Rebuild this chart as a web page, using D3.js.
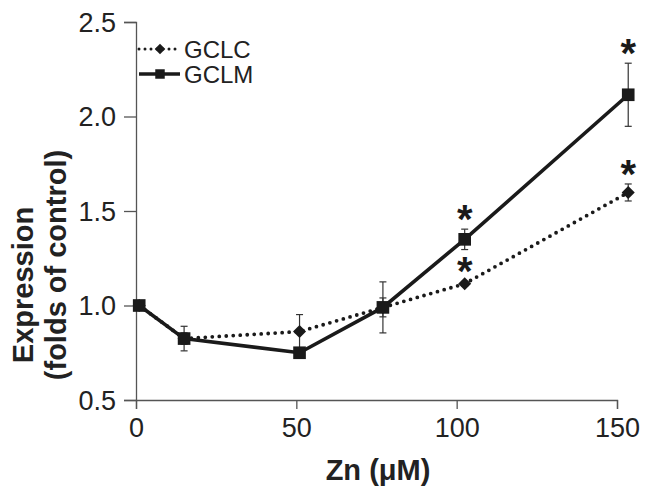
<!DOCTYPE html>
<html>
<head>
<meta charset="utf-8">
<script src="https://cdn.jsdelivr.net/npm/d3@7"></script>
<style>
  body { margin: 0; background: #fff; }
  svg { display: block; font-family: Arial, "Liberation Sans", sans-serif; }
</style>
</head>
<body>
<svg id="chart"></svg>
<script>
// values
const zn = [1, 15, 51, 77, 102.5, 153.5];           // Zn (µM), marker positions as drawn
const gclc = [1.0, 0.825, 0.862, 0.99, 1.115, 1.598];
const gclcErr = [0, 0.03, 0.09, 0.05, 0.012, 0.045];
const gclm = [1.0, 0.825, 0.75, 0.99, 1.35, 2.115];
const gclmErr = [0, 0.065, 0, 0.135, 0.054, 0.167];
const gclcSig = [false, false, false, false, true, true];
const gclmSig = [false, false, false, false, true, true];
const xTicks = [0, 50, 100, 150];
const yTicks = [0.5, 1.0, 1.5, 2.0, 2.5];

let width = 655, height = 488;
let svg = d3.select("#chart").attr("width", width).attr("height", height);

let x = d3.scaleLinear().domain([0, 150]).range([136, 617]);
let y = d3.scaleLinear().domain([0.5, 2.5]).range([400, 22]);

// rotated square, custom so we don't depend on symbolDiamond2
let diamond = {
    draw(ctx, size) {
        let r = Math.sqrt(size) / 2 * Math.SQRT2;
        ctx.moveTo(0, -r); ctx.lineTo(r, 0); ctx.lineTo(0, r); ctx.lineTo(-r, 0); ctx.closePath();
    }
};

// axes
let xAxis = svg.append("g")
    .attr("transform", "translate(0,400)")
    .call(d3.axisBottom(x).tickValues(xTicks).tickSize(9).tickPadding(5).tickFormat(d3.format("d")));
let yAxis = svg.append("g")
    .attr("transform", "translate(136,0)")
    .call(d3.axisLeft(y).tickValues(yTicks).tickSize(12).tickPadding(8).tickFormat(d3.format(".1f")));

[xAxis, yAxis].forEach(a => {
    a.select(".domain").attr("stroke", "#555").attr("stroke-width", 1.3);
    a.selectAll(".tick line").attr("stroke", "#555").attr("stroke-width", 1.3);
    a.selectAll(".tick text").attr("fill", "#222").style("font-size", "27px");
});
xAxis.selectAll(".tick text").attr("dy", "0.85em");
yAxis.selectAll(".tick text").attr("dy", "0.35em");

// axis titles
svg.append("text")
    .attr("x", 378).attr("y", 480)
    .attr("text-anchor", "middle")
    .style("font-size", "29px").style("font-weight", "bold").attr("fill", "#222")
    .text("Zn (\u03bcM)");

let yTitle = svg.append("g").attr("transform", "translate(0,265) rotate(-90)");
yTitle.append("text")
    .attr("x", -20).attr("y", 33)
    .attr("text-anchor", "middle")
    .style("font-size", "29px").style("font-weight", "bold").attr("fill", "#222")
    .text("Expression");
yTitle.append("text")
    .attr("x", 0).attr("y", 66)
    .attr("text-anchor", "middle")
    .style("font-size", "29px").style("font-weight", "bold").attr("fill", "#222")
    .text("(folds of control)");

let series = [
    { name: "GCLC", vals: gclc, err: gclcErr, sig: gclcSig, dash: "0 7", type: diamond, size: 85 },
    { name: "GCLM", vals: gclm, err: gclmErr, sig: gclmSig, dash: null, type: d3.symbolSquare, size: 160 }
];

let line = d3.line().x(d => x(d[0])).y(d => y(d[1]));

// lines
series.forEach(s => {
    svg.append("path")
        .datum(zn.map((z, i) => [z, s.vals[i]]))
        .attr("fill", "none")
        .attr("stroke", "#1a1a1a")
        .attr("stroke-width", s.dash ? 3.8 : 3.6)
        .attr("stroke-linecap", "round")
        .attr("stroke-dasharray", s.dash)
        .attr("d", line);
});

// error bars
series.forEach(s => {
    let g = svg.append("g").attr("stroke", "#333").attr("stroke-width", 1.2);
    zn.forEach((z, i) => {
        if (!s.err[i]) return;
        let cx = x(z), y1 = y(s.vals[i] + s.err[i]), y2 = y(s.vals[i] - s.err[i]);
        g.append("line").attr("x1", cx).attr("x2", cx).attr("y1", y1).attr("y2", y2);
        g.append("line").attr("x1", cx - 3.5).attr("x2", cx + 3.5).attr("y1", y1).attr("y2", y1);
        g.append("line").attr("x1", cx - 3.5).attr("x2", cx + 3.5).attr("y1", y2).attr("y2", y2);
    });
});

// markers
series.forEach(s => {
    svg.append("g").selectAll("path")
        .data(zn.map((z, i) => [z, s.vals[i]]))
        .enter().append("path")
        .attr("transform", d => `translate(${x(d[0])},${y(d[1])})`)
        .attr("d", d3.symbol().type(s.type).size(s.size))
        .attr("fill", "#1a1a1a");
});

// significance stars
series.forEach(s => {
    svg.append("g").selectAll("text")
        .data(zn.map((z, i) => ({ z: z, v: s.vals[i] + s.err[i], sig: s.sig[i] })).filter(d => d.sig))
        .enter().append("text")
        .attr("x", d => x(d.z))
        .attr("y", d => y(d.v) + 4)
        .attr("text-anchor", "middle")
        .style("font-size", "40px").style("font-weight", "bold").attr("fill", "#1a1a1a")
        .text("*");
});

// legend
let legend = svg.append("g");
series.forEach((s, i) => {
    let ly = 49 + i * 25;
    legend.append("line")
        .attr("x1", 139).attr("x2", 180).attr("y1", ly).attr("y2", ly)
        .attr("stroke", "#1a1a1a").attr("stroke-width", s.dash ? 3 : 3.6)
        .attr("stroke-linecap", s.dash ? "round" : "butt")
        .attr("stroke-dasharray", s.dash ? "0 6" : null);
    legend.append("path")
        .attr("transform", `translate(160,${ly})`)
        .attr("d", d3.symbol().type(s.type).size(s.dash ? 55 : 90))
        .attr("fill", "#1a1a1a");
    legend.append("text")
        .attr("x", 184).attr("y", ly + 9)
        .style("font-size", "24px").attr("fill", "#222")
        .text(s.name);
});
</script>
</body>
</html>
